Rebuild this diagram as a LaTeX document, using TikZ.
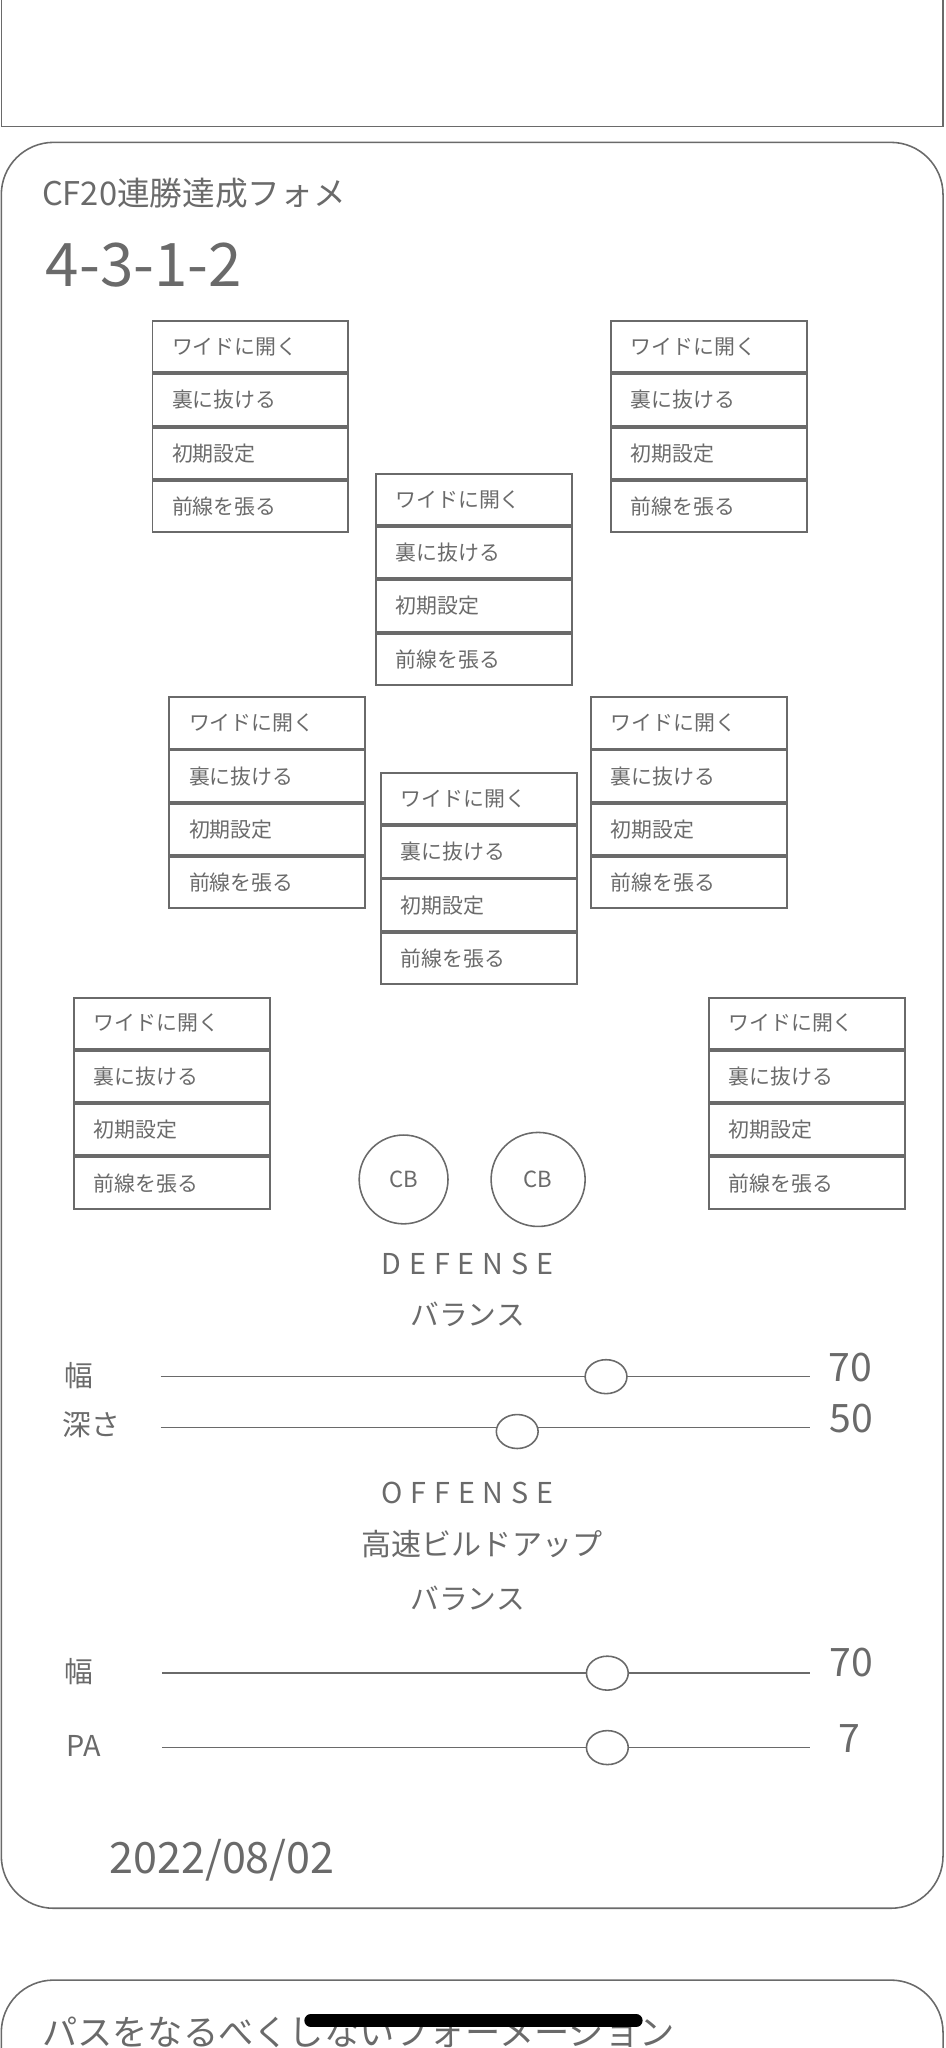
\documentclass[tikz,border=0pt]{standalone}
\usepackage{fontspec}
\usetikzlibrary{shapes.geometric}
\setmainfont{Noto Sans CJK JP}
\definecolor{ink}{HTML}{6A6A6A}
\begin{document}
\begin{tikzpicture}[x=1pt,y=-1pt,
  cell/.style={draw=ink,line width=1.5pt,minimum width=150pt,minimum height=39.3pt,inner sep=0pt,text=ink,font=\fontsize{16}{18}\selectfont,align=left,text width=120pt},
  lbl/.style={text=ink,inner sep=0pt},
  knob/.style={draw=ink,line width=1.2pt,fill=white,ellipse,minimum width=32pt,minimum height=26pt},
  slide/.style={draw=ink,line width=1.2pt}]
\useasboundingbox (0,0) rectangle (724,1568);
\draw[ink,line width=1.2pt] (1,-2) rectangle (722,97);
\draw[ink,line width=1.2pt,rounded corners=40pt] (1,109) rectangle (722,1461);
\draw[ink,line width=1.2pt,rounded corners=40pt] (1,1575) -- (1,1516) -- (722,1516) -- (722,1575);
\node[lbl,anchor=west,font=\fontsize{25}{28}\selectfont] (title) at (32,148) {CF20連勝達成フォメ};
\node[lbl,anchor=west,font=\fontsize{46}{50}\selectfont] (form) at (35,203) {4-3-1-2};
\foreach \n/\x/\y in {p1/116/245,p2/467/245,p3/287/362,p4/129/533,p5/452/533,p6/291/591,p7/56/763,p8/542/763}{
  \node[cell,anchor=north west] (\n a) at (\x,\y) {ワイドに開く};
  \node[cell,anchor=north] (\n b) at (\n a.south) {裏に抜ける};
  \node[cell,anchor=north] (\n c) at (\n b.south) {初期設定};
  \node[cell,anchor=north] (\n d) at (\n c.south) {前線を張る};
}
\node[draw=ink,line width=1.2pt,circle,minimum size=68pt,lbl,font=\fontsize{17}{20}\selectfont] (cb1) at (309,903) {CB};
\node[draw=ink,line width=1.2pt,circle,minimum size=72pt,lbl,font=\fontsize{17}{20}\selectfont] (cb2) at (412,903) {CB};
\node[lbl,font=\fontsize{22}{26}\selectfont] (def) at (358,968) {D\hskip6pt E\hskip6pt F\hskip6pt E\hskip6pt N\hskip6pt S\hskip6pt E};
\node[lbl,font=\fontsize{22}{26}\selectfont] (dbal) at (358,1006) {バランス};
\node[lbl,font=\fontsize{22}{26}\selectfont] (w1) at (60,1053) {幅};
\coordinate (w1l) at (123,1054); \coordinate (w1r) at (620,1054);
\draw[slide] (w1l) -- (w1r);
\node[knob] (k1) at (464,1054) {};
\node[lbl,font=\fontsize{30}{34}\selectfont] (v1) at (651,1047) {70};
\node[lbl,font=\fontsize{22}{26}\selectfont] (d1) at (70,1091) {深さ};
\coordinate (d1l) at (123,1093); \coordinate (d1r) at (620,1093);
\draw[slide] (d1l) -- (d1r);
\node[knob] (k2) at (396,1096) {};
\node[lbl,font=\fontsize{30}{34}\selectfont] (v2) at (652,1086) {50};
\node[lbl,font=\fontsize{22}{26}\selectfont] (off) at (358,1143) {O\hskip6pt F\hskip6pt F\hskip6pt E\hskip6pt N\hskip6pt S\hskip6pt E};
\node[lbl,font=\fontsize{23}{26}\selectfont] (hs) at (369,1182) {高速ビルドアップ};
\node[lbl,font=\fontsize{22}{26}\selectfont] (obal) at (358,1224) {バランス};
\node[lbl,font=\fontsize{22}{26}\selectfont] (w2) at (60,1280) {幅};
\coordinate (w2l) at (124,1281); \coordinate (w2r) at (620,1281);
\draw[slide] (w2l) -- (w2r);
\node[knob] (k3) at (465,1281) {};
\node[lbl,font=\fontsize{30}{34}\selectfont] (v3) at (652,1273) {70};
\node[lbl,font=\fontsize{22}{26}\selectfont] (pa) at (64,1337) {PA};
\coordinate (pal) at (124,1338); \coordinate (par) at (620,1338);
\draw[slide] (pal) -- (par);
\node[knob] (k4) at (465,1338) {};
\node[lbl,font=\fontsize{30}{34}\selectfont] (v4) at (650,1331) {7};
\node[lbl,font=\fontsize{33}{36}\selectfont] (date) at (170,1424) {2022/08/02};
\node[lbl,anchor=west,font=\fontsize{27}{30}\selectfont] (t2) at (32,1556) {パスをなるべくしないフォーメーション};
\coordinate (ba) at (238,1547); \coordinate (bb) at (487,1547);
\draw[black,line width=10pt,line cap=round] (ba) -- (bb);
\end{tikzpicture}
\end{document}
